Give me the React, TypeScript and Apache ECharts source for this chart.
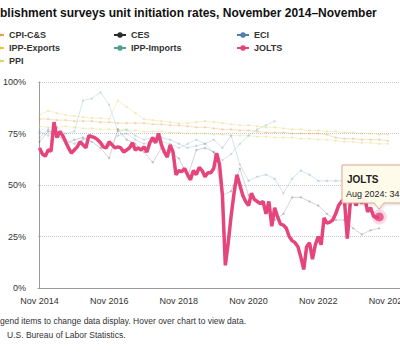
import React, { useEffect, useRef } from "react";
import * as echarts from "echarts";

const TITLE = "blishment surveys unit initiation rates, November 2014–November";
const NOTE_1 = "gend items to change data display. Hover over chart to view data.";
const NOTE_2 = "U.S. Bureau of Labor Statistics.";
const TIP_NAME = "JOLTS";
const TIP_TEXT = "Aug 2024: 34";

const MONTH_NAMES = ["Jan", "Feb", "Mar", "Apr", "May", "Jun", "Jul", "Aug", "Sep", "Oct", "Nov", "Dec"];
const START_YEAR = 2014;
const START_MONTH = 10; // November
const X_LABEL_MONTHS = [0, 24, 48, 72, 96, 120];
const HOVER_INDEX = 117; // Aug 2024

// Monthly JOLTS rate (%), Nov 2014 – Aug 2024
const JOLTS = [
  68, 65, 64, 67, 66.5, 80.5, 73, 76, 74, 71, 68, 65.5,
  67, 68.5, 71, 69.5, 68, 74, 73.5, 73, 72, 70.5, 68.5, 68,
  71, 69.5, 68, 68.5, 68, 66, 67, 68, 70.5, 67, 68, 67,
  68.5, 66, 70.5, 73, 70.5, 75, 69.5, 66, 63.5, 69.5, 66, 55,
  57, 56.5, 58, 55, 52.5, 57, 55, 58.5, 57, 54, 56, 56,
  58, 65.5, 60, 45, 11, 22, 35, 46, 55, 50, 45, 42,
  40, 46, 43, 42, 41, 42, 36, 42, 30, 39, 34.5, 31,
  30.5, 29, 25, 23, 22, 20, 15, 9, 20, 22, 14, 21,
  25, 21, 34, 31.5, 32, 33, 36, 40, 42, 43, 24, 41,
  45, 40, 44, 41, 44, 37, 39, 35, 34, 34.5,
];

// Quarterly series (every 3rd month from Nov 2014), faded in the reference
const CPI_CS = [82, 82, 81.5, 81.5, 81, 81, 81, 80.5, 80.5, 80, 80, 80, 80, 79.5, 79.5, 79, 79, 78.5, 78, 78, 77.5, 77, 77, 76.5, 76.5, 76, 75.5, 75.5, 75.5, 75, 75, 75, 75, 74.5, 73, 72.5, 72.5, 72, 72, 72, 71.5];
const PPI = [78.5, 78, 78, 78.5, 78, 77.5, 77.5, 77, 77, 77, 76.5, 76.5, 76, 76, 76, 75.5, 75.5, 75, 75, 75, 74.5, 74.5, 74, 74, 74, 73.5, 73.5, 73, 73, 73, 72.5, 72.5, 72, 72, 71.5, 71, 71, 70.5, 70.5, 70, 70];
const IPP_EXPORTS = [84, 86, 85, 84, 83.5, 83, 82.5, 82.5, 82, 91, 88, 85, 82, 81.5, 81, 80.5, 80, 80, 80.5, 81, 80.5, 80, 79.5, 79, 79, 78.5, 78, 78, 77.5, 77, 77, 76.5, 76.5, 76, 76, 75.5, 75.5, 75, 75, 74.5, 74.5];
const IPP_IMPORTS = [76, 74, 78, 75, 76, 91, 92, 95, 89, 76, 77, 74, 72, 73, 71, 70, 68, 70, 72, 70, 66, 62, 65, 70, 74, 77, 79, 81];
const CES = [71, 76, 75, 70, 72, 73, 71, 68, 63, 77, 72, 70, 66, 61, 68, 66, 63, 54, 67, 68, 66, 45, 47, 58, 45, 42, 39, 33, 36, 44, 44, 42, 40, 36, 33, 33, 29, 26, 28, 29];
const ECI = [73, 77, 74, 72, 70, 72, 73, 71, 69, 74, 75, 72, 70, 71, 73, 72, 70, 68, 69, 70, 72, 68, 74, 60, 52, 54, 55, 53, 46, 53, 57, 55, 52, 52, 52, 52, 53, 52, 53, 54];

const COLORS: Record<string, string> = {
  "CPI-C&S": "#e9a04a",
  "IPP-Exports": "#e3c445",
  PPI: "#dcd36a",
  CES: "#2b2b2b",
  "IPP-Imports": "#4fa08f",
  ECI: "#4f7fae",
  JOLTS: "#e5457a",
};

const FONT = "'Liberation Sans', Arial, sans-serif";

const monthLabel = (m: number) => {
  const total = START_MONTH + Math.round(m);
  return `${MONTH_NAMES[total % 12]} ${START_YEAR + Math.floor(total / 12)}`;
};

const monthly = (arr: number[]) => arr.map((v, i) => [i, v]);
const quarterly = (arr: number[]) => arr.map((v, i) => [i * 3, v]);

const fadedSeries = (name: string, data: number[][], opacity: number) => ({
  type: "line",
  name,
  data,
  symbol: "circle",
  symbolSize: 2.5,
  showSymbol: true,
  lineStyle: { width: 1, color: COLORS[name], opacity },
  itemStyle: { color: COLORS[name], opacity },
  emphasis: { disabled: true },
  z: 2,
});

export default function App() {
  const ref = useRef<HTMLDivElement>(null);

  useEffect(() => {
    if (!ref.current) return;
    const chart = echarts.init(ref.current, undefined, { renderer: "svg" });

    const legendCommon = {
      orient: "vertical",
      itemWidth: 12,
      itemHeight: 7,
      itemGap: 1,
      padding: 0,
      selectedMode: true,
      textStyle: { fontSize: 9, fontWeight: "bold", color: "#333", fontFamily: FONT, lineHeight: 12 },
      lineStyle: { opacity: 1 },
      itemStyle: { opacity: 1 },
    };

    chart.setOption({
      animation: false,
      backgroundColor: "#ffffff",
      textStyle: { fontFamily: FONT },
      grid: { left: 31.5, right: 8, top: 82, bottom: 65, containLabel: false },
      legend: [
        { ...legendCommon, left: -9, top: 29, data: ["CPI-C&S", "IPP-Exports", "PPI"] },
        { ...legendCommon, left: 113, top: 29, data: ["CES", "IPP-Imports"] },
        { ...legendCommon, left: 236, top: 29, data: ["ECI", "JOLTS"] },
      ],
      xAxis: {
        type: "value",
        min: -0.5,
        max: 124,
        axisLine: { show: true, lineStyle: { color: "#9a9a9a", width: 1 } },
        axisTick: { show: false },
        splitLine: { show: false },
        axisLabel: {
          customValues: X_LABEL_MONTHS,
          formatter: (v: number) => monthLabel(v),
          color: "#333",
          fontSize: 9,
          fontFamily: FONT,
          margin: 8,
        },
      },
      yAxis: {
        type: "value",
        min: 0,
        max: 100,
        interval: 25,
        axisLine: { show: true, lineStyle: { color: "#9a9a9a", width: 1 } },
        axisTick: { show: false },
        splitLine: { show: true, lineStyle: { type: "dotted", color: "#c8c8c8", width: 1 } },
        axisLabel: { formatter: "{value}%", color: "#333", fontSize: 9, fontFamily: FONT, margin: 12 },
      },
      series: [
        fadedSeries("CPI-C&S", quarterly(CPI_CS), 0.3),
        fadedSeries("PPI", quarterly(PPI), 0.3),
        fadedSeries("IPP-Exports", quarterly(IPP_EXPORTS), 0.25),
        fadedSeries("IPP-Imports", quarterly(IPP_IMPORTS), 0.22),
        fadedSeries("CES", quarterly(CES), 0.2),
        fadedSeries("ECI", quarterly(ECI), 0.22),
        {
          type: "line",
          name: "JOLTS",
          data: monthly(JOLTS),
          symbol: "circle",
          symbolSize: 5,
          showSymbol: false,
          lineStyle: { width: 3.5, color: COLORS.JOLTS },
          itemStyle: { color: COLORS.JOLTS },
          emphasis: { disabled: true },
          z: 4,
        },
        {
          type: "scatter",
          name: "JOLTS",
          data: [[HOVER_INDEX, JOLTS[HOVER_INDEX]]],
          symbolSize: 9,
          itemStyle: { color: COLORS.JOLTS, borderColor: "rgba(229,69,122,0.25)", borderWidth: 6 },
          emphasis: { disabled: true },
          z: 5,
        },
      ],
      graphic: [
        {
          type: "text",
          left: 0,
          top: 7,
          style: { text: TITLE, font: `bold 12px ${FONT}`, fill: "#111" },
        },
        {
          type: "text",
          left: 0,
          top: 316,
          style: { text: NOTE_1, font: `8.5px ${FONT}`, fill: "#333" },
        },
        {
          type: "text",
          left: 7,
          top: 330,
          style: { text: NOTE_2, font: `8.5px ${FONT}`, fill: "#333" },
        },
        {
          type: "group",
          z: 100,
          children: [
            {
              type: "polygon",
              z: 100,
              shape: {
                points: [
                  [342, 165], [440, 165], [440, 203], [384, 203], [379, 209], [374, 203], [342, 203],
                ],
              },
              style: {
                fill: "rgba(255,251,233,0.96)",
                stroke: "#d9a890",
                lineWidth: 1,
                shadowBlur: 3,
                shadowColor: "rgba(0,0,0,0.15)",
                shadowOffsetX: 1,
                shadowOffsetY: 1,
              },
            },
            {
              type: "text",
              z: 101,
              x: 347,
              y: 179.5,
              style: { text: TIP_NAME, font: `bold 10px ${FONT}`, fill: "#222", verticalAlign: "middle" },
            },
            {
              type: "text",
              z: 101,
              x: 346,
              y: 193.5,
              style: { text: TIP_TEXT, font: `9px ${FONT}`, fill: "#222", verticalAlign: "middle" },
            },
          ],
        },
      ],
    });

    return () => chart.dispose();
  }, []);

  return (
    <div style={{ position: "fixed", left: 0, top: 0, width: 400, height: 353, overflow: "hidden", background: "#fff" }}>
      <div ref={ref} style={{ width: 410, height: 353 }} />
    </div>
  );
}
